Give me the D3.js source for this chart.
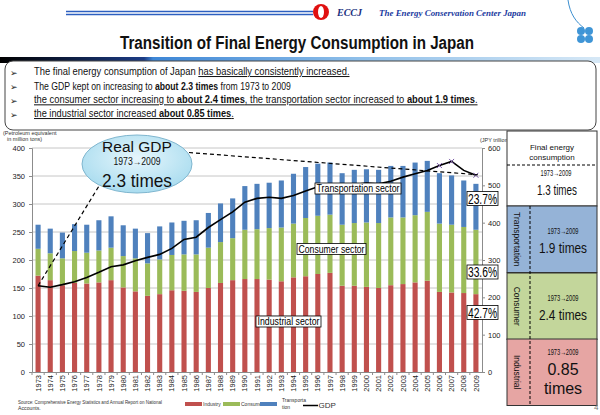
<!DOCTYPE html>
<html><head><meta charset="utf-8">
<script src="https://cdn.jsdelivr.net/npm/d3@7"></script>
<style>body{margin:0;background:#fff}svg{display:block;font-family:"Liberation Sans",Arial,sans-serif}</style>
</head><body><svg id="c" width="600" height="415"></svg>
<script>
// ---------- data ----------
const years = ["1973","1974","1975","1976","1977","1978","1979","1980","1981","1982","1983","1984","1985","1986","1987","1988","1989","1990","1991","1992","1993","1994","1995","1996","1997","1998","1999","2000","2001","2002","2003","2004","2005","2006","2007","2008","2009"];
const industry  = [172,164,155,159,158,160,164,151,144,136,139,146,145,143,150,159,164,166,166,165,162,169,171,175,177,154,154,152,150,155,157,160,163,143,142,141,139];
const consumer  = [48,48,48,57,55,57,58,56,59,58,62,63,65,67,72,73,75,88,89,92,96,96,104,104,104,109,112,115,116,121,119,120,123,122,121,118,115];
const transport = [43,44,46,48,50,54,56,55,53,54,59,58,60,61,62,69,71,78,81,81,84,89,91,93,93,92,95,95,95,92,92,94,91,90,88,83,82];
const gdp       = [231,227,234,242,253,267,282,287,298,307,315,331,355,361,387,408,429,455,465,468,465,473,485,496,504,500,502,506,504,511,522,531,540,553,564,540,527];
const markedYears = ["2006","2007","2009"];
const leftTicks  = [0,50,100,150,200,250,300,350,400];
const rightTicks = [0,100,200,300,400,500,600];
const seriesKeys   = ["industry","consumer","transport"];
const seriesLabels = ["Industry","Consumer","Transporta\ntion"];
const seriesColors = ["#c0504d","#9bbb59","#4f81bd"];
const shareLabels  = ["23.7%","33.6%","42.7%"];
const sectorLabels = ["Transportation sector","Consumer sector","Industrial sector"];
const panelRows = [
  {name:"Transportation", ratio:"1.9 times", fill:"#95b3d7"},
  {name:"Consumer", ratio:"2.4 times", fill:"#c3d69b"},
  {name:"Industrial", ratio:"0.85\ntimes", fill:"#e6a5a3"}
];
const totalRatio = "1.3 times";
const gdpRatio = "2.3 times";
const period = "1973\u21922009";

const svg = d3.select("#c");
const defs = svg.append("defs");

function periodText(x, y, size, len){
  return svg.append("text").attr("x",x).attr("y",y).attr("text-anchor","middle").attr("font-size",size).attr("fill","#111")
    .attr("font-family","'Liberation Sans','DejaVu Sans',sans-serif")
    .attr("textLength",len).attr("lengthAdjust","spacingAndGlyphs").text(period);
}

// ---------- header ----------
const hg = defs.append("linearGradient").attr("id","hbar");
[["0%","#000"],["24%","#1c3c86"],["25.5%","#3d86d6"],["60%","#8fbfe9"],["100%","#d6e8f6"]].forEach(s=>hg.append("stop").attr("offset",s[0]).attr("stop-color",s[1]));
svg.append("rect").attr("x",0).attr("y",57).attr("width",600).attr("height",6).attr("fill","url(#hbar)");
svg.append("line").attr("x1",66).attr("x2",313).attr("y1",11.5).attr("y2",11.5).attr("stroke","#2d5fc0").attr("stroke-width",1.6);
svg.append("line").attr("x1",66).attr("x2",313).attr("y1",14.5).attr("y2",14.5).attr("stroke","#2d5fc0").attr("stroke-width",1.6);
svg.append("circle").attr("cx",321).attr("cy",12).attr("r",8).attr("fill","#e01010");
svg.append("ellipse").attr("cx",321).attr("cy",12).attr("rx",3).attr("ry",6).attr("fill","#fff");
svg.append("text").attr("x",337).attr("y",16).attr("font-family","Liberation Serif").attr("font-style","italic").attr("font-weight","bold").attr("font-size",10).attr("fill","#1a2f80").text("ECCJ");
svg.append("text").attr("x",379).attr("y",16).attr("font-family","Liberation Serif").attr("font-style","italic").attr("font-weight","bold").attr("font-size",8.5).attr("fill","#1a3aa0").attr("textLength",147).attr("lengthAdjust","spacingAndGlyphs").text("The Energy Conservation Center Japan");
svg.append("path").attr("d","M568,0 C570,14 576,22 584,28").attr("fill","none").attr("stroke","#3c8fd0").attr("stroke-width",1);
[[-4,-4],[4,-4],[-4,4],[4,4]].forEach(o=>svg.append("circle").attr("cx",585+o[0]).attr("cy",35+o[1]).attr("r",4).attr("fill","#3f95d6"));
svg.append("text").attr("x",297).attr("y",49).attr("text-anchor","middle").attr("font-weight","bold").attr("font-size",18).attr("fill","#111").attr("textLength",354).attr("lengthAdjust","spacingAndGlyphs").text("Transition of Final Energy Consumption in Japan");

// ---------- bullet box ----------
svg.append("rect").attr("x",5).attr("y",61).attr("width",591).attr("height",69).attr("rx",8).attr("fill","#fff").attr("stroke","#444").attr("stroke-width",1);
const bullets = [
  {y:75,  w:316, parts:[["The final energy consumption of Japan ",0,0],["has basically consistently increased.",0,1]]},
  {y:89.5,w:257, parts:[["The GDP kept on increasing to ",0,0],["about 2.3 times",1,0],[" from 1973 to 2009",0,0]]},
  {y:103.3,w:444,parts:[["the consumer sector increasing to ",0,1],["about 2.4 times",1,1],[", the transportation sector increased to ",0,1],["about 1.9 times",1,1],[".",0,1]]},
  {y:117, w:200, parts:[["the industrial sector increased ",0,1],["about 0.85 times",1,1],[".",0,1]]}
];
bullets.forEach(b=>{
  svg.append("text").attr("x",10).attr("y",b.y+0.5).attr("font-family","DejaVu Sans").attr("font-size",9).attr("fill","#222").text("\u27A2");
  const g = svg.append("g");
  const t = g.append("text").attr("x",0).attr("y",0).attr("font-size",10).attr("fill","#111");
  b.parts.forEach(p=>t.append("tspan").attr("font-weight",p[1]?"bold":"normal").style("text-decoration",p[2]?"underline":"none").text(p[0]));
  const natural = t.node().getComputedTextLength();
  g.attr("transform",`translate(34,${b.y}) scale(${b.w/natural},1)`);
});

// ---------- chart ----------
const x  = d3.scaleBand().domain(years).range([32,482]).paddingInner(0.58).paddingOuter(0.29);
const yL = d3.scaleLinear().domain([0,400]).range([372,148]);
const yR = d3.scaleLinear().domain([0,600]).range([372,148]);

svg.append("g").selectAll("line").data(leftTicks.filter(d=>d>0)).join("line")
  .attr("x1",32).attr("x2",482).attr("y1",d=>yL(d)).attr("y2",d=>yL(d)).attr("stroke","#c6c6c6").attr("stroke-width",1);

const gL = svg.append("g").attr("transform","translate(32,0)").call(d3.axisLeft(yL).tickValues(leftTicks).tickSize(3).tickPadding(4));
const gR = svg.append("g").attr("transform","translate(482,0)").call(d3.axisRight(yR).tickValues(rightTicks).tickSize(3).tickPadding(3));
[gL,gR].forEach(g=>{g.selectAll("path,line").attr("stroke","#8c8c8c"); g.selectAll("text").attr("font-size",7.5).attr("fill","#222").attr("font-family","Liberation Sans");});

const table = years.map((y,i)=>({year:y, industry:industry[i], consumer:consumer[i], transport:transport[i]}));
const stack = d3.stack().keys(seriesKeys)(table);
svg.append("g").selectAll("g").data(stack).join("g").attr("fill",(d,i)=>seriesColors[i])
  .selectAll("rect").data(d=>d).join("rect")
  .attr("x",d=>x(d.data.year)).attr("width",x.bandwidth())
  .attr("y",d=>yL(d[1])).attr("height",d=>yL(d[0])-yL(d[1]));

// bottom axis
const gB = svg.append("g").attr("transform","translate(0,372)").call(d3.axisBottom(x).tickSize(0));
gB.select("path").attr("stroke","#8c8c8c");
gB.selectAll("text").attr("transform","rotate(-90)").attr("x",-3).attr("y",0).attr("dy","0.35em").attr("text-anchor","end").attr("font-size",7.5).attr("fill","#222").attr("font-family","Liberation Sans");
svg.append("g").selectAll("line").data(years).join("line")
  .attr("x1",d=>x(d)-x.step()*x.paddingInner()/2).attr("x2",d=>x(d)-x.step()*x.paddingInner()/2)
  .attr("y1",372).attr("y2",375).attr("stroke","#8c8c8c");

// GDP line
const cx = d=>x(d)+x.bandwidth()/2;
svg.append("path").datum(gdp).attr("fill","none").attr("stroke","#000").attr("stroke-width",1.6)
  .attr("d",d3.line().x((d,i)=>cx(years[i])).y(d=>yR(d)));
markedYears.forEach(yr=>{
  const i = years.indexOf(yr), px = cx(yr), py = yR(gdp[i]);
  svg.append("path").attr("d",`M${px-2.5},${py-2.5}L${px+2.5},${py+2.5}M${px-2.5},${py+2.5}L${px+2.5},${py-2.5}`).attr("stroke","#7a5aa8").attr("stroke-width",1);
});

// axis titles
svg.append("text").attr("x",3).attr("y",135).attr("font-size",5.5).attr("fill","#333").text("(Petroleum equivalent");
svg.append("text").attr("x",7).attr("y",141).attr("font-size",5.5).attr("fill","#333").text("in million tons)");
svg.append("text").attr("x",480).attr("y",142).attr("font-size",5.5).attr("fill","#333").text("(JPY trillion)");

// GDP callout
const eg = defs.append("radialGradient").attr("id","eg").attr("cx","50%").attr("cy","40%").attr("r","60%");
eg.append("stop").attr("offset","0%").attr("stop-color","#e6f6fc");
eg.append("stop").attr("offset","100%").attr("stop-color","#a9dcef");
const ex=137, ey=164;
svg.append("line").attr("x1",cx(years[0])).attr("y1",yR(gdp[0])).attr("x2",99).attr("y2",186)
  .attr("stroke","#000").attr("stroke-width",1.2).attr("stroke-dasharray","4,3");
svg.append("line").attr("x1",189).attr("y1",152.5).attr("x2",cx(years[years.length-1])+2).attr("y2",yR(gdp[gdp.length-1])-0.5)
  .attr("stroke","#000").attr("stroke-width",1.2).attr("stroke-dasharray","4,3");
svg.append("ellipse").attr("cx",ex).attr("cy",ey).attr("rx",55).attr("ry",29).attr("fill","url(#eg)").attr("stroke","#7fb6cf").attr("stroke-width",1);
svg.append("text").attr("x",ex).attr("y",152).attr("text-anchor","middle").attr("font-size",15.5).attr("fill","#111").text("Real GDP");
periodText(ex,165,10,47);
svg.append("text").attr("x",ex).attr("y",187).attr("text-anchor","middle").attr("font-size",18.5).attr("fill","#111").attr("textLength",70).attr("lengthAdjust","spacingAndGlyphs").text(gdpRatio);

// sector labels
const sectorPos = [[315,183,86,11],[297,243.5,69,11],[256,316,65,11]];
sectorLabels.forEach((s,i)=>{
  const p = sectorPos[i];
  svg.append("rect").attr("x",p[0]).attr("y",p[1]).attr("width",p[2]).attr("height",p[3]).attr("fill","#fff").attr("stroke","#000").attr("stroke-width",0.8);
  svg.append("text").attr("x",p[0]+1.5).attr("y",p[1]+9).attr("font-size",10.5).attr("fill","#000").attr("textLength",p[2]-3).attr("lengthAdjust","spacingAndGlyphs").text(s);
});
const sharePos = [191.5,265,305.5];
shareLabels.forEach((s,i)=>{
  svg.append("rect").attr("x",467).attr("y",sharePos[i]).attr("width",31).attr("height",14).attr("fill","#fff").attr("stroke","#000").attr("stroke-width",0.8);
  svg.append("text").attr("x",468).attr("y",sharePos[i]+12).attr("font-size",14).attr("fill","#000").attr("textLength",29).attr("lengthAdjust","spacingAndGlyphs").text(s);
});

// ---------- right panel ----------
const P = {x0:507, x1:597};
svg.append("rect").attr("x",P.x0).attr("y",131).attr("width",P.x1-P.x0).attr("height",75).attr("fill","#fff").attr("stroke","#333").attr("stroke-width",1);
svg.append("line").attr("x1",P.x0).attr("x2",P.x1).attr("y1",165).attr("y2",165).attr("stroke","#000").attr("stroke-dasharray","3,2");
svg.append("text").attr("x",552).attr("y",150).attr("text-anchor","middle").attr("font-size",8).attr("fill","#111").text("Final energy");
svg.append("text").attr("x",552).attr("y",160).attr("text-anchor","middle").attr("font-size",8).attr("fill","#111").text("consumption");
periodText(556,176,8.5,31);
svg.append("text").attr("x",557).attr("y",195).attr("text-anchor","middle").attr("font-size",14).attr("fill","#111").attr("textLength",40).attr("lengthAdjust","spacingAndGlyphs").text(totalRatio);
const rowY = [206,273,339], rowH = 66.5;
panelRows.forEach((r,i)=>{
  const y0 = rowY[i];
  svg.append("rect").attr("x",P.x0).attr("y",y0).attr("width",P.x1-P.x0).attr("height",rowH).attr("fill",r.fill).attr("stroke","#333").attr("stroke-width",1);
  svg.append("text").attr("transform",`translate(514,${y0+rowH/2}) rotate(90)`).attr("text-anchor","middle").attr("font-size",8.5).attr("fill","#111").text(r.name);
  const lines = r.ratio.split("\n");
  if(lines.length===1){
    periodText(563,y0+28,8.5,31);
    svg.append("text").attr("x",563).attr("y",y0+47).attr("text-anchor","middle").attr("font-size",15).attr("fill","#111").attr("textLength",48).attr("lengthAdjust","spacingAndGlyphs").text(lines[0]);
  } else {
    periodText(563,y0+16,8.5,31);
    lines.forEach((l,k)=>svg.append("text").attr("x",563).attr("y",y0+36+k*19).attr("text-anchor","middle").attr("font-size",16).attr("fill","#111").text(l));
  }
});
svg.append("line").attr("x1",530).attr("x2",530).attr("y1",206).attr("y2",405.5).attr("stroke","#000").attr("stroke-dasharray","3,2");
svg.append("text").attr("x",594).attr("y",410).attr("font-size",8).attr("fill","#777").text("4");

// ---------- source & legend ----------
svg.append("text").attr("x",18).attr("y",404).attr("font-size",5.2).attr("fill","#333").attr("textLength",144).attr("lengthAdjust","spacingAndGlyphs").text("Source: Comprehensive Energy Statistics and Annual Report on National");
svg.append("text").attr("x",18).attr("y",410).attr("font-size",5.2).attr("fill","#333").text("Accounts.");
const legX = [185,223,260];
seriesLabels.forEach((s,i)=>{
  svg.append("rect").attr("x",legX[i]).attr("y",402).attr("width",17).attr("height",4).attr("fill",seriesColors[i]);
  const ls = s.split("\n");
  ls.forEach((l,k)=>svg.append("text").attr("x",legX[i]+(i===2?22:18)).attr("y",ls.length>1?402+k*7:406).attr("font-size",5).attr("fill","#333").text(l));
});
svg.append("line").attr("x1",303).attr("x2",318).attr("y1",405.5).attr("y2",405.5).attr("stroke","#000").attr("stroke-width",1.5);
svg.append("text").attr("x",318.5).attr("y",408).attr("font-size",8).attr("fill","#333").text("GDP");
</script></body></html>
